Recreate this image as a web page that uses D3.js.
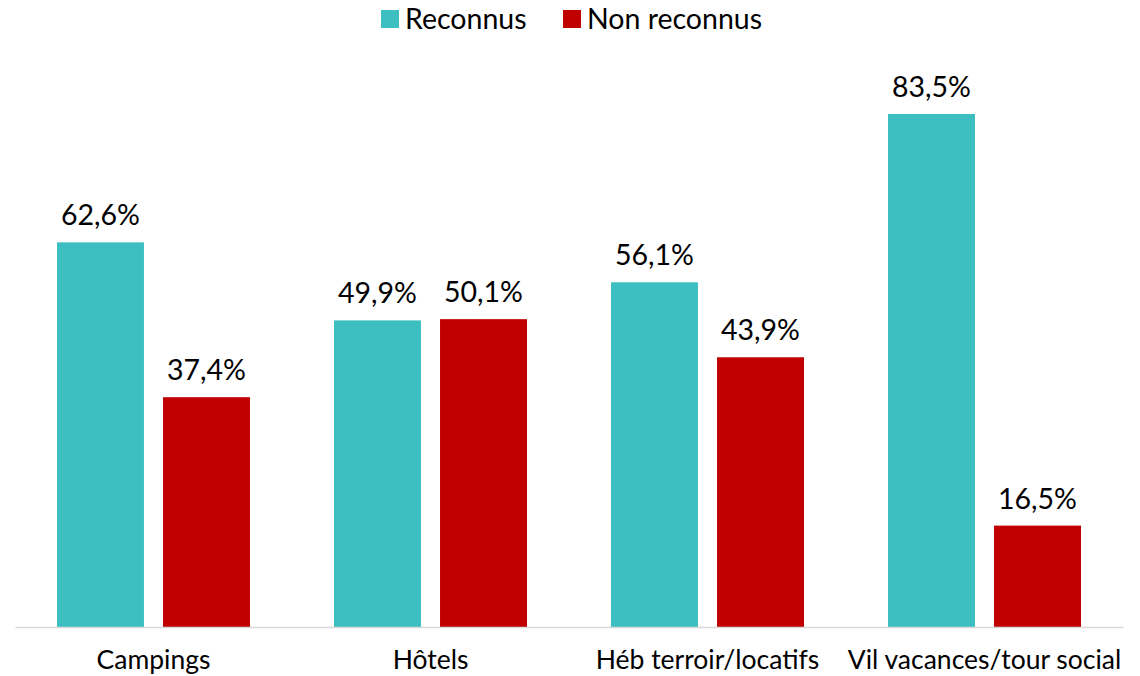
<!DOCTYPE html>
<html><head><meta charset="utf-8">
<script src="https://cdn.jsdelivr.net/npm/d3@7"></script>
<style>body{margin:0;background:#fff;} svg{display:block;} text{font-family:Lato, sans-serif;fill:#000;}</style>
</head><body><svg id="c" width="1140" height="676"></svg>
<script>
const categories = ["Campings", "Hôtels", "Héb terroir/locatifs", "Vil vacances/tour social"];
const seriesNames = ["Reconnus", "Non reconnus"];
const reconnus = [62.6, 49.9, 56.1, 83.5];
const nonReconnus = [37.4, 50.1, 43.9, 16.5];
const colors = ["#3DBFC2", "#C00000"];

const svg = d3.select("#c");
const x = d3.scaleBand().domain(categories).range([15, 1123]).paddingInner(0).paddingOuter(0);
const inner = d3.scaleBand().domain(seriesNames).range([42, 235]).paddingInner(0.18);
const y = d3.scaleLinear().domain([0, 90]).range([627, 74]);
const fmt = v => v.toFixed(1).replace(".", ",") + "%";

const data = categories.map((c, i) => ({cat: c, vals: [reconnus[i], nonReconnus[i]]}));

const g = svg.append("g");
const groups = g.selectAll("g.grp").data(data).join("g").attr("transform", d => `translate(${x(d.cat)},0)`);
groups.selectAll("rect").data(d => d.vals.map((v, j) => ({s: seriesNames[j], v, j})))
  .join("rect")
  .attr("x", d => inner(d.s)).attr("width", inner.bandwidth())
  .attr("y", d => y(d.v)).attr("height", d => y(0) - y(d.v))
  .attr("fill", d => colors[d.j]);
groups.selectAll("text.val").data(d => d.vals.map((v, j) => ({s: seriesNames[j], v, j})))
  .join("text").attr("class", "val")
  .attr("x", d => inner(d.s) + inner.bandwidth() / 2).attr("y", d => y(d.v) - 17)
  .attr("text-anchor", "middle").style("font-size", "28.5px").text(d => fmt(d.v));

// axis
const ax = svg.append("g").attr("transform", `translate(0,${y(0)})`)
  .call(d3.axisBottom(x).tickSize(0).tickPadding(23));
ax.select(".domain").attr("stroke", "#d9d9d9").attr("stroke-width", 1.5);
ax.selectAll("text").style("font-family", "Lato, sans-serif").style("font-size", "26.5px").attr("fill", "#000");

// legend
const legend = svg.append("g");
const items = [{n: seriesNames[0], c: colors[0], x: 381}, {n: seriesNames[1], c: colors[1], x: 563}];
items.forEach(it => {
  legend.append("rect").attr("x", it.x).attr("y", 10).attr("width", 18).attr("height", 18).attr("fill", it.c);
  legend.append("text").attr("x", it.x + 24).attr("y", 29).style("font-size", "28.5px").text(it.n);
});
</script></body></html>
